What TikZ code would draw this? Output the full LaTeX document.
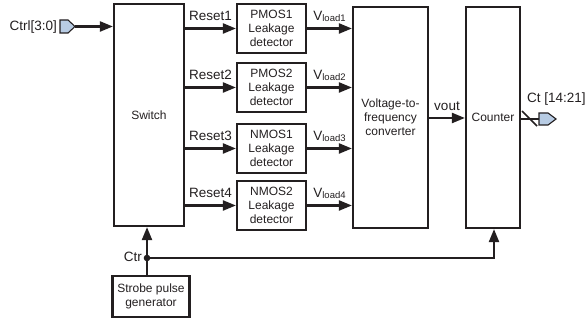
\documentclass[tikz,border=0pt]{standalone}
\usepackage{fontspec}
\setmainfont{Liberation Sans}
\usetikzlibrary{arrows.meta}
\definecolor{portblue}{HTML}{B8CCE4}
\definecolor{ink}{HTML}{231F20}
\begin{document}
\begin{tikzpicture}[x=1pt,y=-1pt,
  box/.style={draw=ink, line width=2.2pt, align=center, inner sep=0pt,
    font=\fontsize{12}{14}\selectfont, text=ink},
  conn/.style={draw=ink, line width=2.2pt, -{Triangle[length=13pt,width=10pt]}},
  wire/.style={draw=ink, line width=2.2pt},
  lbl/.style={font=\fontsize{13.5}{15}\selectfont, inner sep=0pt, text=ink},
  port/.style={draw=ink, line width=1.1pt, fill=portblue, line join=miter}]
\useasboundingbox (0,0) rectangle (587,320);

% blocks
\node[box, minimum width=70pt, minimum height=222pt] (sw) at (149,115) {Switch};
\node[box, minimum width=69pt, minimum height=49pt] (d1) at (271.5,28.5) {PMOS1\\Leakage\\detector};
\node[box, minimum width=69pt, minimum height=49pt] (d2) at (271.5,87.5) {PMOS2\\Leakage\\detector};
\node[box, minimum width=69pt, minimum height=49pt] (d3) at (271.5,148.5) {NMOS1\\Leakage\\detector};
\node[box, minimum width=69pt, minimum height=49pt] (d4) at (271.5,205.5) {NMOS2\\Leakage\\detector};
\node[box, minimum width=75pt, minimum height=221pt] (vf) at (390.5,117.5) {Voltage-to-\\frequency\\converter};
\node[box, minimum width=54pt, minimum height=221pt] (cnt) at (493,117.5) {Counter};
\node[box, minimum width=77pt, minimum height=41pt] (sp) at (151,296.5) {Strobe pulse\\generator};

% input port
\draw[port] (60,20) -- (68,20) -- (75,26.5) -- (68,33) -- (60,33) -- cycle;
\coordinate (inp) at (75,26.5);
\node[lbl, anchor=base east] (ctrl) at (57,31) {Ctrl[3:0]};
\draw[conn] (inp) -- (inp -| sw.west);

% reset lines
\foreach \i in {1,...,4}{
  \draw[conn] (sw.east |- d\i.west) -- node[lbl, above=7.5pt, anchor=base] (r\i) {Reset\i} (d\i.west);
  \draw[conn] (d\i.east) -- node[lbl, above=8pt, anchor=base] (v\i) {V\raisebox{-1.5pt}{\fontsize{9.5}{10}\selectfont load\i}} (vf.west |- d\i.east);
}

% vout
\draw[conn] (vf.east |- 0,118) -- node[lbl, above=7pt, anchor=base] (vo) {vout} (cnt.west |- 0,118);

% output port
\coordinate (outp) at (539,119);
\draw[wire] (cnt.east |- outp) -- (outp);
\draw[wire, line width=1.6pt] (522,111) -- (537,126);
\draw[port] (539,113) -- (548,113) -- (556,119) -- (548,125) -- (539,125) -- cycle;
\node[lbl, anchor=base west] (ct) at (527,103) {Ct [14:21]};

% strobe / ctr
\coordinate (dot) at (147,258);
\draw[wire] (sp.north -| dot) -- (dot);
\draw[conn] (dot) -- (dot |- sw.south);
\draw[conn] (dot) -- (494,258) -- (494,258 |- cnt.south);
\fill[ink] (dot) circle (3.3pt);
\node[lbl, anchor=base east] (ctr) at (142,262) {Ctr};
\end{tikzpicture}
\end{document}
